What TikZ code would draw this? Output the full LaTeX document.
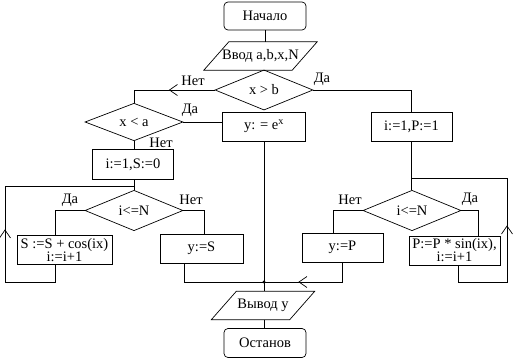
\documentclass[tikz,border=0pt]{standalone}
\usepackage{fontspec}
\setmainfont{Liberation Serif}
\usetikzlibrary{shapes.geometric, arrows.meta, positioning, calc, decorations.markings}
\newcommand{\chartfont}{\fontsize{14.5}{13}\selectfont}
\tikzset{
  block/.style={rectangle, draw, line width=0.7pt, minimum width=82pt, minimum height=29pt, inner sep=1pt, align=center, font=\chartfont},
  termblock/.style={block, rounded corners=4pt},
  ioblock/.style={rectangle, minimum width=88pt, minimum height=28pt, inner sep=1pt, font=\chartfont,
    append after command={\pgfextra{\draw[line width=0.7pt]
      ([xshift=-12.5pt]\tikzlastnode.south west) -- ([xshift=-12.5pt]\tikzlastnode.south east)
      -- ([xshift=12.5pt]\tikzlastnode.north east) -- ([xshift=12.5pt]\tikzlastnode.north west) -- cycle;}}},
  cond/.style={diamond, draw, line width=0.7pt, minimum width=98pt, minimum height=32pt, inner sep=0pt, font=\chartfont},
  lbl/.style={inner sep=0pt, font=\chartfont},
  conn/.style={line width=0.7pt},
  midarrow/.style={postaction={decorate}, decoration={markings, mark=at position #1 with {\arrow[line width=0.7pt]{Straight Barb[length=8pt, width=11pt]}}}}
}
\begin{document}
\begin{tikzpicture}[x=1pt, y=-1pt]
    \useasboundingbox (0,0) rectangle (513,359);

    % main axis
    \node[termblock, minimum height=28pt] (start) at (265,16) {Начало};
    \node[ioblock] (inp) at (260.5,56) {Ввод a,b,x,N};
    \node[cond] (xgb) at (264,90) {x > b};
    \node[cond] (xla) at (134,122) {x < a};
    \node[block, minimum width=83pt] (yex) at (264,126.5) {y: = e\textsuperscript{x}};
    \node[block, minimum width=81pt] (p0) at (411.5,126.5) {i:=1,P:=1};

    % left branch (sum)
    \node[block, minimum width=81pt, minimum height=30pt] (s0) at (133,164.5) {i:=1,S:=0};
    \node[cond] (lcond) at (134,210.5) {i<=N};
    \node[block, minimum width=95pt] (sbody) at (64.5,250) {S :=S + cos(ix)\\i:=i+1};
    \node[block, minimum width=83pt] (ys) at (201.5,248.5) {y:=S};

    % right branch (product)
    \node[cond] (rcond) at (412,210.5) {i<=N};
    \node[block, minimum width=81pt] (yp) at (342.5,247.5) {y:=P};
    \node[block, minimum width=91pt] (pbody) at (454.5,250.5) {P:=P * sin(ix),\\i:=i+1};

    % output
    \node[ioblock, minimum width=78pt] (out) at (263,305.5) {Вывод у};
    \node[termblock] (stop) at (265,343) {Останов};

    \coordinate (sjoin) at (134,186);
    \coordinate (pjoin) at (411.5,178);
    \coordinate (lbot) at (5,282);
    \coordinate (rbot) at (507,282);
    \coordinate (jn) at (264,282);

    % labels
    \node[lbl] (no1) at (193,81) {Нет};
    \node[lbl] (yes1) at (322,79) {Да};
    \node[lbl] (yes2) at (190,110) {Да};
    \node[lbl] (no2) at (161,143) {Нет};
    \node[lbl] (yes3) at (70,200) {Да};
    \node[lbl] (no3) at (191,200) {Нет};
    \node[lbl] (no4) at (350,200) {Нет};
    \node[lbl] (yes4) at (470,199) {Да};

    % connectors
    \draw[conn] (start.south) -- (start.south |- inp.north);
    \draw[conn] (inp.south -| xgb.north) -- (xgb.north);
    \draw[conn, midarrow=0.49] (xgb.west) -| (xla.north);
    \draw[conn] (xgb.east) -| (p0.north);
    \draw[conn] (xla.east) -- (xla.east -| yex.west);
    \draw[conn] (xla.south) -- (xla.south |- s0.north);
    \draw[conn] (s0.south -| lcond.north) -- (lcond.north);
    \draw[conn] (lcond.west) -| ([xshift=-9.5pt]sbody.north);
    \draw[conn] (lcond.east) -| ([xshift=2.5pt]ys.north);
    \draw[conn, midarrow=0.41] ([xshift=-9.5pt]sbody.south) |- (lbot) |- (sjoin);
    \draw[conn] (p0.south) -- (p0.south |- rcond.north);
    \draw[conn] (rcond.west) -| ([xshift=-9.5pt]yp.north);
    \draw[conn] (rcond.east) -| ([xshift=23.5pt]pbody.north);
    \draw[conn, midarrow=0.46] ([xshift=4pt]pbody.south) |- (rbot) |- (pjoin);
    \draw[conn] (yex.south) -- (jn);
    \draw[conn] ([xshift=-17.5pt]ys.south) |- (jn);
    \draw[conn, midarrow=0.65] (yp.south) |- (jn);
    \fill (jn) circle (1.6pt);
    \draw[conn] (jn) -- (jn |- out.north);
    \draw[conn] (out.south -| jn) -- (stop.north -| jn);
\end{tikzpicture}
\end{document}
